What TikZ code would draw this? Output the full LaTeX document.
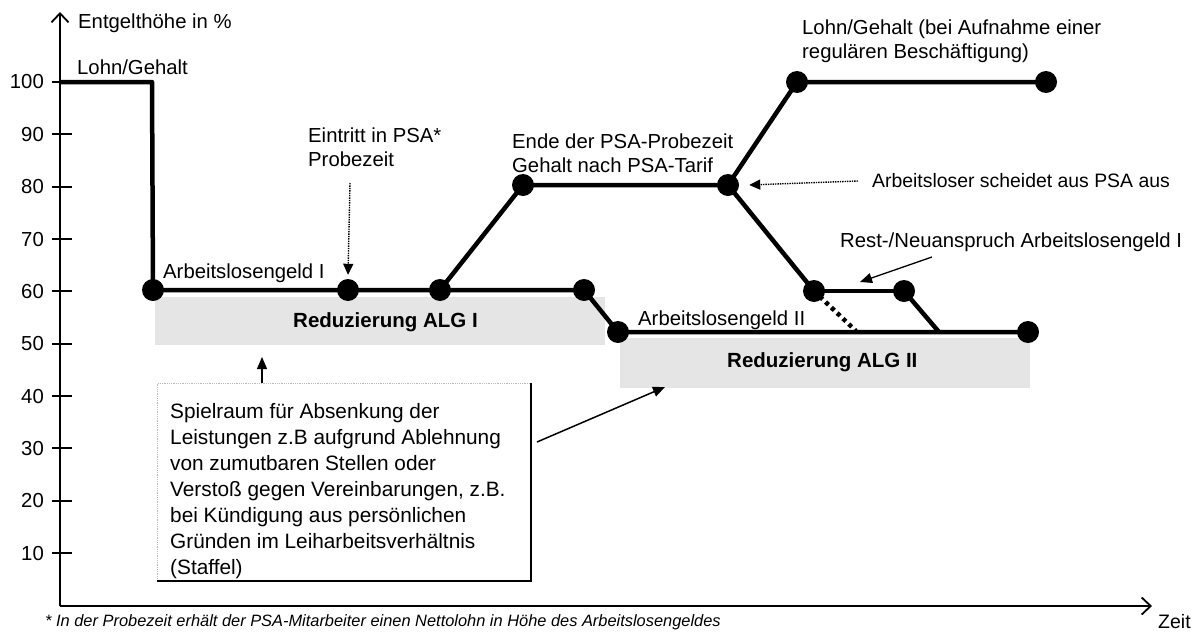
\documentclass[tikz,border=0pt]{standalone}
\usepackage{fontspec}
\setmainfont{Liberation Sans}
\usetikzlibrary{arrows.meta}
\begin{document}
\begin{tikzpicture}[x=1pt,y=-1pt,
  font=\fontsize{20.3}{24}\selectfont,
  dot/.style={circle,fill=black,inner sep=0pt,minimum size=22pt},
  curve/.style={line width=4.5pt,line join=round},
  axis/.style={line width=2pt,-{Straight Barb[length=9pt,width=17pt,line width=1.8pt]}},
  tickmark/.style={line width=2pt},
  lbl/.style={inner sep=0pt,anchor=west},
  multi/.style={inner sep=0pt,anchor=north west,align=left},
  band/.style={fill=gray!20,draw=none},
  hint/.style={line width=1.4pt,densely dotted,-{Triangle[length=11pt,width=10pt]}},
  pointer/.style={line width=1.5pt,-{Triangle[length=12pt,width=10pt]}},
  frame/.style={draw=gray!55,densely dotted,line width=0.8pt,fill=white,inner sep=0pt},
]
\useasboundingbox (0,0) rectangle (1200,635);

% reduction bands below the benefit levels
\fill[band] (155,297) rectangle (605,345);
\fill[band] (620,338) rectangle (1030,388);

% axes
\coordinate (O) at (60,606);
\coordinate (ytop) at (60,12);
\coordinate (xend) at (1152,606);
\draw[axis] (O) -- (ytop);
\draw[axis] (O) -- (xend);
\foreach \v in {10,20,...,100}{
  \draw[tickmark] (52,{605.5-5.235*\v}) -- (72,{605.5-5.235*\v});
  \node[inner sep=0pt,anchor=east] at (44,{605.5-5.235*\v}) {\v};
}
\node[lbl] (ylab) at (78,23) {Entgelthöhe in \%};
\node[lbl,font=\fontsize{19.5}{24}\selectfont] (xlab) at (1158,622) {Zeit};

% income curve
\coordinate (s0) at (60,82);
\coordinate (s1) at (152,82);
\node[dot] (d1) at (153,290) {};
\node[dot] (d2) at (348,290) {};
\node[dot] (d3) at (440,290) {};
\node[dot] (d4) at (584,290) {};
\node[dot] (d5) at (618,332) {};
\node[dot] (d6) at (523,185) {};
\node[dot] (d7) at (728,185) {};
\node[dot] (d8) at (797,82) {};
\node[dot] (d9) at (1046,82) {};
\node[dot] (d10) at (814,291) {};
\node[dot] (d11) at (904,291) {};
\node[dot] (d12) at (1028,332) {};
\coordinate (m) at (939,332);
\coordinate (dt) at (856,331);

\draw[curve] (s0) -- (s1) -- (d1.center) -- (d4.center) -- (d5.center) -- (d12.center);
\draw[curve] (d3.center) -- (d6.center) -- (d7.center) -- (d8.center) -- (d9.center);
\draw[curve] (d7.center) -- (d10.center);
\draw[line width=3.5pt] (d10.center) -- (d11.center);
\draw[curve] (d11.center) -- (m);
\draw[line width=4.5pt,dash pattern=on 4pt off 4pt] (d10.center) -- (dt);

% curve labels
\node[lbl] (lohn) at (77,67) {Lohn/Gehalt};
\node[lbl] (alg1) at (163,273) {Arbeitslosengeld I};
\node[lbl] (alg2) at (638,320) {Arbeitslosengeld II};
\node[lbl,font=\fontsize{20.5}{24}\selectfont\bfseries] (red1) at (293,322) {Reduzierung ALG I};
\node[lbl,font=\fontsize{20.5}{24}\selectfont\bfseries] (red2) at (727,362) {Reduzierung ALG II};
\node[multi] (eintritt) at (308,128) {Eintritt in PSA*\\Probezeit};
\node[multi] (ende) at (512,134) {Ende der PSA-Probezeit\\Gehalt nach PSA-Tarif};
\node[multi] (regulaer) at (802,20) {Lohn/Gehalt (bei Aufnahme einer\\regulären Beschäftigung)};
\node[lbl,font=\fontsize{19.4}{24}\selectfont] (austritt) at (872,181) {Arbeitsloser scheidet aus PSA aus};
\node[lbl] (rest) at (840,242) {Rest-/Neuanspruch Arbeitslosengeld I};

% annotation arrows
\coordinate (e1) at (350,183);
\draw[hint] (e1) -- ([yshift=4pt]d2.north);
\draw[hint] ([xshift=-14pt]austritt.west) -- ([xshift=10pt]d7.east);
\coordinate (r1) at (932,257);
\coordinate (r2) at (860,282);
\draw[pointer,line width=1.3pt] (r1) -- (r2);

% explanation box
\node[frame,minimum width=373pt,minimum height=197pt,anchor=north west] (box) at (157,383) {};
\draw[line width=1.8pt] (box.north east) -- (box.south east) -- (box.south west);
\node[multi,font=\fontsize{20.8}{26}\selectfont] (boxtext) at ([xshift=13pt,yshift=-20pt]box.north west)
  {Spielraum für Absenkung der\\
   Leistungen z.B aufgrund Ablehnung\\
   von zumutbaren Stellen oder\\
   Verstoß gegen Vereinbarungen, z.B.\\
   bei Kündigung aus persönlichen\\
   Gründen im Leiharbeitsverhältnis\\
   (Staffel)};
\coordinate (b1) at (262,357);
\draw[pointer,line width=1.3pt] (box.north -| b1) -- (b1);
\coordinate (p1) at (537,442);
\coordinate (p2) at (665,387);
\draw[pointer] (p1) -- (p2);

% footnote
\node[lbl,font=\fontsize{16.4}{18}\selectfont\itshape] (fn) at (45,622)
  {* In der Probezeit erhält der PSA-Mitarbeiter einen Nettolohn in Höhe des Arbeitslosengeldes};
\end{tikzpicture}
\end{document}
